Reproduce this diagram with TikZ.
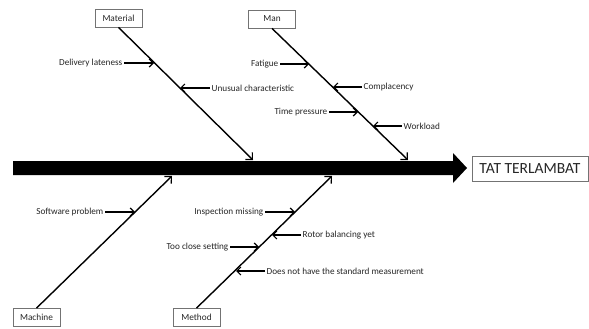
\documentclass[tikz,border=0pt]{standalone}
\usepackage{fontspec}
\setmainfont{Carlito}
\usetikzlibrary{arrows.meta}
\begin{document}
\begin{tikzpicture}[x=1pt,y=-1pt,
  cat/.style={draw=black!55, line width=0.8pt, minimum width=47pt, minimum height=18pt, inner sep=0pt, font=\fontsize{9.3}{10}\selectfont, text=black!85},
  lbl/.style={inner sep=1.5pt, font=\fontsize{9.2}{10}\selectfont, text=black!85},
  bone/.style={line width=1.4pt, -{Straight Barb[length=5pt,width=10pt,line width=1.2pt]}},
  sub/.style={line width=1.6pt, -{Straight Barb[length=4pt,width=8pt,line width=1.2pt]}}]
\useasboundingbox (0,0) rectangle (589,329);
% spine
\fill (13,161) -- (453,161) -- (453,153) -- (467,168) -- (453,183) -- (453,175) -- (13,175) -- cycle;
\node[draw=black!55, line width=0.8pt, minimum width=116pt, minimum height=25pt, inner sep=0pt, font=\fontsize{15.5}{17}\selectfont, text=black!85] (res) at (530,168.5) {TAT TERLAMBAT};
% categories
\node[cat] (mat) at (118.5,18) {Material};
\node[cat] (man) at (272,19) {Man};
\node[cat] (mac) at (36.5,317.5) {Machine};
\node[cat] (met) at (196.5,317.5) {Method};
\coordinate (matE) at (253,160);
\coordinate (manE) at (408,160);
\coordinate (macE) at (172,176);
\coordinate (metE) at (332,176);
\draw[bone] (mat.south) -- (matE);
\draw[bone] (man.south) -- (manE);
\draw[bone] (mac.north) -- (macE);
\draw[bone] (met.north) -- (metE);
% Material causes
\coordinate (p1) at (154,63);
\coordinate (p2) at (180,88);
\node[lbl, anchor=east] (t1) at (124,63) {Delivery lateness};
\node[lbl, anchor=west] (t2) at (210,88) {Unusual characteristic};
\draw[sub] (t1.east) -- (p1);
\draw[sub] (t2.west) -- (p2);
% Man causes
\coordinate (p3) at (309,64);
\coordinate (p4) at (333,87);
\coordinate (p5) at (358,112);
\coordinate (p6) at (373,126);
\node[lbl, anchor=east] (t3) at (280,64) {Fatigue};
\node[lbl, anchor=west] (t4) at (362,87) {Complacency};
\node[lbl, anchor=east] (t5) at (329,112) {Time pressure};
\node[lbl, anchor=west] (t6) at (402,126) {Workload};
\draw[sub] (t3.east) -- (p3);
\draw[sub] (t4.west) -- (p4);
\draw[sub] (t5.east) -- (p5);
\draw[sub] (t6.west) -- (p6);
% Machine causes
\coordinate (p7) at (135,212);
\node[lbl, anchor=east] (t7) at (105,212) {Software problem};
\draw[sub] (t7.east) -- (p7);
% Method causes
\coordinate (p8) at (295,212);
\coordinate (p9) at (272,235);
\coordinate (p10) at (259,247);
\coordinate (p11) at (236,271);
\node[lbl, anchor=east] (t8) at (265,212) {Inspection missing};
\node[lbl, anchor=west] (t9) at (301,235) {Rotor balancing yet};
\node[lbl, anchor=east] (t10) at (230,247) {Too close setting};
\node[lbl, anchor=west] (t11) at (265,271) {Does not have the standard measurement};
\draw[sub] (t8.east) -- (p8);
\draw[sub] (t9.west) -- (p9);
\draw[sub] (t10.east) -- (p10);
\draw[sub] (t11.west) -- (p11);
\end{tikzpicture}
\end{document}
